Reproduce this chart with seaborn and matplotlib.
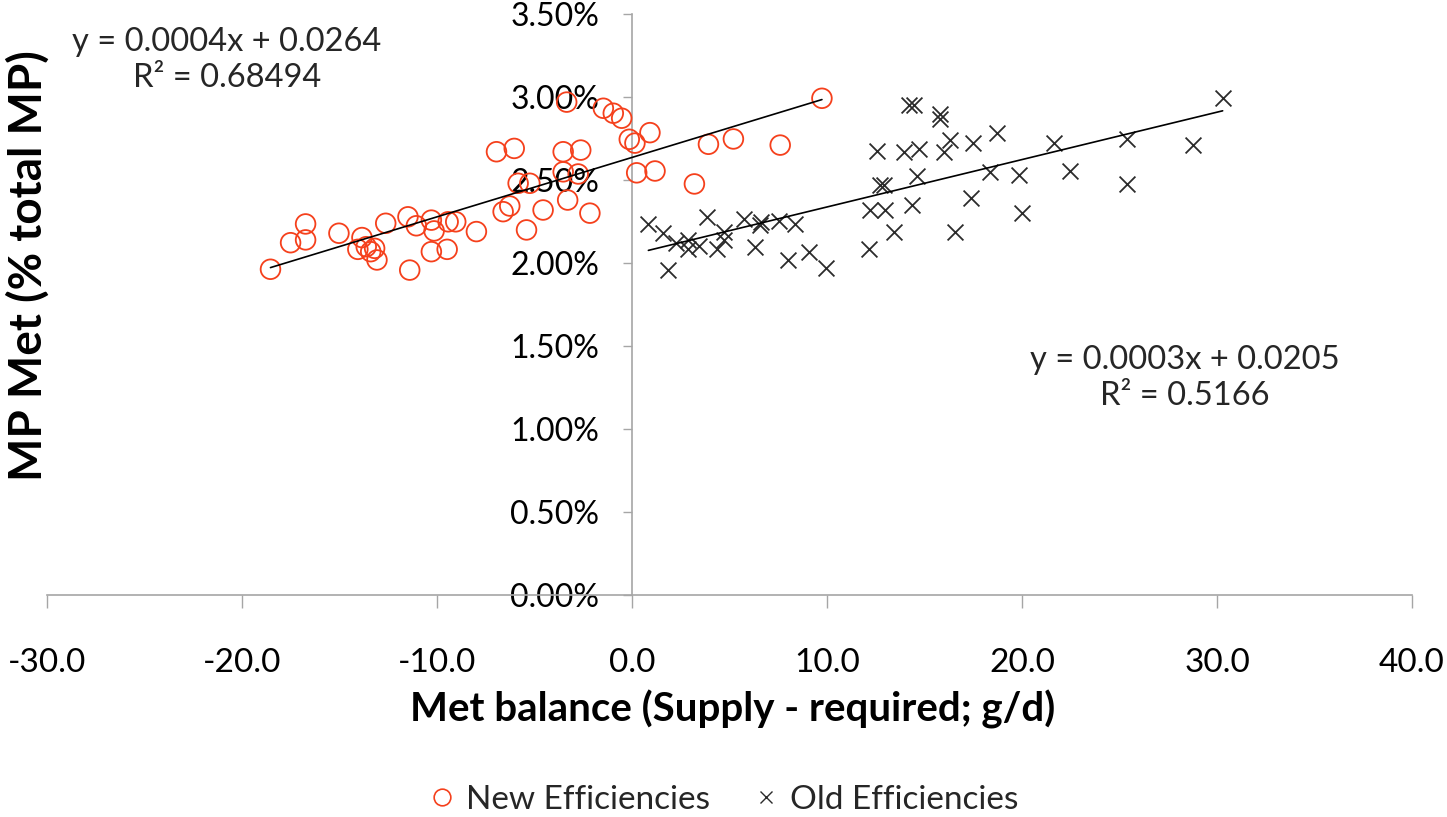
import matplotlib
matplotlib.use("Agg")
import matplotlib.pyplot as plt
from matplotlib.lines import Line2D
from matplotlib.ticker import PercentFormatter, FixedLocator, FuncFormatter
import seaborn as sns
import pandas as pd

# Met balance (g/d) and MP Met (% of total MP) under the new efficiencies
new_balance = [-18.54, -17.51, -16.74, -16.74, -15.03, -13.85, -14.06, -13.63, -13.20, -13.08,
               -12.63, -11.49, -11.40, -11.06, -10.29, -10.15, -10.29, -9.48, -9.43, -9.04,
               -7.98, -6.95, -6.04, -3.53, -2.63, -0.14, 0.15, 0.24, -5.84, -5.24,
               -3.53, -2.76, -3.30, -6.61, -6.27, -4.56, -2.16, -5.41, -3.35, -1.47,
               -0.96, -0.53, 0.92, 1.18, 3.92, 5.20, 3.20, 7.60, 9.74, -13.40]
new_met = [1.964, 2.124, 2.141, 2.237, 2.181, 2.155, 2.084, 2.100, 2.090, 2.020,
           2.241, 2.280, 1.959, 2.226, 2.260, 2.195, 2.070, 2.084, 2.250, 2.250,
           2.191, 2.672, 2.692, 2.672, 2.682, 2.747, 2.724, 2.545, 2.482, 2.482,
           2.551, 2.538, 2.381, 2.311, 2.345, 2.321, 2.302, 2.201, 2.971, 2.934,
           2.904, 2.874, 2.787, 2.556, 2.717, 2.749, 2.478, 2.712, 2.994, 2.070]

# Same animals under the old efficiencies
old_balance = [0.84, 1.61, 2.24, 2.89, 2.89, 3.41, 1.87, 3.84, 4.35, 4.74,
               4.74, 5.72, 6.32, 6.63, 6.57, 7.55, 8.37, 8.00, 9.09, 9.95,
               12.14, 12.22, 12.99, 12.70, 12.91, 12.57, 13.46, 13.94, 14.62, 14.71,
               14.37, 14.19, 14.45, 15.82, 15.82, 15.99, 16.30, 16.55, 17.41, 17.50,
               18.35, 18.70, 19.84, 20.01, 21.64, 22.44, 25.37, 25.41, 28.75, 30.29]
old_met = [2.237, 2.185, 2.124, 2.141, 2.084, 2.104, 1.959, 2.280, 2.084, 2.191,
           2.141, 2.265, 2.100, 2.250, 2.231, 2.256, 2.237, 2.020, 2.070, 1.969,
           2.084, 2.321, 2.321, 2.472, 2.472, 2.678, 2.191, 2.672, 2.526, 2.687,
           2.351, 2.954, 2.954, 2.900, 2.867, 2.672, 2.743, 2.191, 2.391, 2.724,
           2.551, 2.783, 2.532, 2.302, 2.724, 2.556, 2.749, 2.476, 2.712, 2.994]

series_labels = ["New Efficiencies", "Old Efficiencies"]
new_fit_text = "y = 0.0004x + 0.0264\nR² = 0.68494"
old_fit_text = "y = 0.0003x + 0.0205\nR² = 0.5166"
x_label = "Met balance (Supply - required; g/d)"
y_label = "MP Met (% total MP)"
x_ticks = [-30, -20, -10, 0, 10, 20, 30, 40]
y_ticks = [0.0, 0.5, 1.0, 1.5, 2.0, 2.5, 3.0, 3.5]

new_df = pd.DataFrame({"balance": new_balance, "met": new_met})
old_df = pd.DataFrame({"balance": old_balance, "met": old_met})

sns.set_theme(style="white")
plt.rcParams["font.family"] = ["Lato", "DejaVu Sans"]

RED = "#f5401c"
DARK = "#2b2b2b"
AXIS_GREY = "#a6a6a6"

fig = plt.figure(figsize=(14.47, 8.17), dpi=100)
ax = fig.add_axes([0.0325, 0.2714, 0.9433, 0.7111])

sns.scatterplot(data=new_df, x="balance", y="met", ax=ax, marker="o", s=200,
                facecolors="none", edgecolor=RED, linewidth=1.3, zorder=3)
sns.scatterplot(data=old_df, x="balance", y="met", ax=ax, marker="x", s=130,
                color=DARK, linewidth=1.3, zorder=3)

# linear trend lines over each series' range
sns.regplot(data=new_df, x="balance", y="met", ax=ax, scatter=False, ci=None,
            truncate=True, line_kws={"color": "black", "linewidth": 1.2, "zorder": 4})
sns.regplot(data=old_df, x="balance", y="met", ax=ax, scatter=False, ci=None,
            truncate=True, line_kws={"color": "black", "linewidth": 1.2, "zorder": 4})

ax.set_xlim(-30, 40)
ax.set_ylim(0, 3.5)
ax.xaxis.set_major_locator(FixedLocator(x_ticks))
ax.yaxis.set_major_locator(FixedLocator(y_ticks))
ax.xaxis.set_major_formatter(FuncFormatter(lambda v, p: f"{v:.1f}"))
ax.yaxis.set_major_formatter(PercentFormatter(xmax=100, decimals=2))

for side in ("top", "right"):
    ax.spines[side].set_visible(False)
ax.spines["left"].set_position(("data", 0))
ax.spines["bottom"].set_position(("data", 0))
for side in ("left", "bottom"):
    ax.spines[side].set_color(AXIS_GREY)
    ax.spines[side].set_linewidth(1.2)

ax.tick_params(axis="x", direction="out", length=9, width=1, color=AXIS_GREY,
               labelsize=24, pad=29, bottom=True)
ax.tick_params(axis="y", direction="out", length=6.5, width=1, color=AXIS_GREY,
               labelsize=23, pad=17, left=True)
for lab in ax.get_xticklabels() + ax.get_yticklabels():
    lab.set_color("black")

ax.set_xlabel(x_label, fontsize=29, fontweight="bold", color="black")
ax.set_ylabel(y_label, fontsize=33, fontweight="bold", color="black")
ax.xaxis.set_label_coords(0.502, -0.163)
ax.yaxis.set_label_coords(0.002, 0.568)

fig.text(227 / 1447, 1 - 60 / 817, new_fit_text, ha="center", va="center",
         fontsize=23.5, linespacing=1.22)
fig.text(1185 / 1447, 1 - 378 / 817, old_fit_text, ha="center", va="center",
         fontsize=23.5, linespacing=1.22)

handles = [
    Line2D([], [], linestyle="none", marker="o", markersize=12, markerfacecolor="none",
           markeredgecolor=RED, markeredgewidth=1.2),
    Line2D([], [], linestyle="none", marker="x", markersize=9, color=DARK,
           markeredgewidth=1.0),
]
fig.legend(handles, series_labels, loc="center", bbox_to_anchor=(0.5, 1 - 800 / 817),
           ncol=2, frameon=False, fontsize=24, handletextpad=0.3, columnspacing=1.3,
           handlelength=0.8)

fig.savefig("out.png", dpi=100)
